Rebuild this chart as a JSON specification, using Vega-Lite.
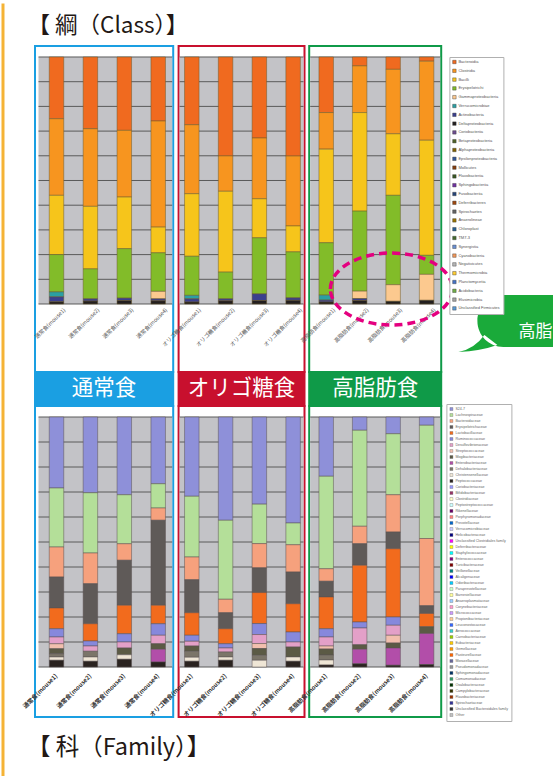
{
"$schema": "https://vega.github.io/schema/vega-lite/v6.json",
"padding": 0,
"background": "white",
"config": {"font": "Noto Sans CJK JP", "view": {"stroke": null}, "scale": {"continuousPadding": 0}},
"datasets": {
"grid": [{"v":0},{"v":0.1},{"v":0.2},{"v":0.3},{"v":0.4},{"v":0.5},{"v":0.6},{"v":0.7},{"v":0.8},{"v":0.9},{"v":1}],
"clsRank": [{"t":"Deltaproteobacteria","k":1},{"t":"Actinobacteria","k":2},{"t":"Verrucomicrobiae","k":3},{"t":"Gammaproteobacteria","k":4},{"t":"Erysipelotrichi","k":5},{"t":"Bacilli","k":6},{"t":"Clostridia","k":7},{"t":"Bacteroidia","k":8}],
"famRank": [{"t":"Peptococcaceae","k":1},{"t":"Christensenellaceae","k":2},{"t":"Dehalobacteriaceae","k":3},{"t":"Enterobacteriaceae","k":4},{"t":"Mogibacteriaceae","k":5},{"t":"Streptococcaceae","k":6},{"t":"Desulfovibrionaceae","k":7},{"t":"Ruminococcaceae","k":8},{"t":"Lactobacillaceae","k":9},{"t":"Erysipelotrichaceae","k":10},{"t":"Bacteroidaceae","k":11},{"t":"Lachnospiraceae","k":12},{"t":"S24-7","k":13}],
"lab": [
{"g":"N","s":1,"name":"通常食(mouse1)"},{"g":"N","s":2,"name":"通常食(mouse2)"},{"g":"N","s":3,"name":"通常食(mouse3)"},{"g":"N","s":4,"name":"通常食(mouse4)"},
{"g":"O","s":1,"name":"オリゴ糖食(mouse1)"},{"g":"O","s":2,"name":"オリゴ糖食(mouse2)"},{"g":"O","s":3,"name":"オリゴ糖食(mouse3)"},{"g":"O","s":4,"name":"オリゴ糖食(mouse4)"},
{"g":"H","s":1,"name":"高脂肪食(mouse1)"},{"g":"H","s":2,"name":"高脂肪食(mouse2)"},{"g":"H","s":3,"name":"高脂肪食(mouse3)"},{"g":"H","s":4,"name":"高脂肪食(mouse4)"}],
"cls": [
{"g":"N","s":1,"t":"Bacteroidia","v":25.0},{"g":"N","s":1,"t":"Clostridia","v":31.0},{"g":"N","s":1,"t":"Bacilli","v":24.0},{"g":"N","s":1,"t":"Erysipelotrichi","v":15.1},{"g":"N","s":1,"t":"Verrucomicrobiae","v":2.0},{"g":"N","s":1,"t":"Actinobacteria","v":2.0},{"g":"N","s":1,"t":"Deltaproteobacteria","v":0.9},
{"g":"N","s":2,"t":"Bacteroidia","v":29.0},{"g":"N","s":2,"t":"Clostridia","v":31.4},{"g":"N","s":2,"t":"Bacilli","v":25.3},{"g":"N","s":2,"t":"Erysipelotrichi","v":12.1},{"g":"N","s":2,"t":"Actinobacteria","v":0.9},{"g":"N","s":2,"t":"Deltaproteobacteria","v":1.2},
{"g":"N","s":3,"t":"Bacteroidia","v":29.7},{"g":"N","s":3,"t":"Clostridia","v":27.0},{"g":"N","s":3,"t":"Bacilli","v":20.9},{"g":"N","s":3,"t":"Erysipelotrichi","v":20.0},{"g":"N","s":3,"t":"Actinobacteria","v":1.0},{"g":"N","s":3,"t":"Deltaproteobacteria","v":1.4},
{"g":"N","s":4,"t":"Bacteroidia","v":25.9},{"g":"N","s":4,"t":"Clostridia","v":42.9},{"g":"N","s":4,"t":"Bacilli","v":10.4},{"g":"N","s":4,"t":"Erysipelotrichi","v":15.6},{"g":"N","s":4,"t":"Gammaproteobacteria","v":3.0},{"g":"N","s":4,"t":"Actinobacteria","v":0.8},{"g":"N","s":4,"t":"Deltaproteobacteria","v":1.3},
{"g":"O","s":1,"t":"Bacteroidia","v":27.4},{"g":"O","s":1,"t":"Clostridia","v":27.9},{"g":"O","s":1,"t":"Bacilli","v":25.3},{"g":"O","s":1,"t":"Erysipelotrichi","v":15.8},{"g":"O","s":1,"t":"Verrucomicrobiae","v":1.4},{"g":"O","s":1,"t":"Actinobacteria","v":1.3},{"g":"O","s":1,"t":"Deltaproteobacteria","v":0.8},
{"g":"O","s":2,"t":"Bacteroidia","v":40.0},{"g":"O","s":2,"t":"Clostridia","v":14.3},{"g":"O","s":2,"t":"Bacilli","v":32.7},{"g":"O","s":2,"t":"Erysipelotrichi","v":10.8},{"g":"O","s":2,"t":"Actinobacteria","v":0.8},{"g":"O","s":2,"t":"Deltaproteobacteria","v":1.3},
{"g":"O","s":3,"t":"Bacteroidia","v":32.8},{"g":"O","s":3,"t":"Clostridia","v":24.6},{"g":"O","s":3,"t":"Bacilli","v":15.8},{"g":"O","s":3,"t":"Erysipelotrichi","v":22.7},{"g":"O","s":3,"t":"Actinobacteria","v":2.7},{"g":"O","s":3,"t":"Deltaproteobacteria","v":1.4},
{"g":"O","s":4,"t":"Bacteroidia","v":40.1},{"g":"O","s":4,"t":"Clostridia","v":28.3},{"g":"O","s":4,"t":"Bacilli","v":10.5},{"g":"O","s":4,"t":"Erysipelotrichi","v":18.6},{"g":"O","s":4,"t":"Actinobacteria","v":1.0},{"g":"O","s":4,"t":"Deltaproteobacteria","v":1.5},
{"g":"H","s":1,"t":"Bacteroidia","v":22.5},{"g":"H","s":1,"t":"Clostridia","v":14.8},{"g":"H","s":1,"t":"Bacilli","v":37.9},{"g":"H","s":1,"t":"Erysipelotrichi","v":21.2},{"g":"H","s":1,"t":"Verrucomicrobiae","v":2.0},{"g":"H","s":1,"t":"Actinobacteria","v":0.8},{"g":"H","s":1,"t":"Deltaproteobacteria","v":0.8},
{"g":"H","s":2,"t":"Bacteroidia","v":3.6},{"g":"H","s":2,"t":"Clostridia","v":18.9},{"g":"H","s":2,"t":"Bacilli","v":39.9},{"g":"H","s":2,"t":"Erysipelotrichi","v":32.4},{"g":"H","s":2,"t":"Gammaproteobacteria","v":3.0},{"g":"H","s":2,"t":"Actinobacteria","v":0.8},{"g":"H","s":2,"t":"Deltaproteobacteria","v":1.4},
{"g":"H","s":3,"t":"Bacteroidia","v":5.0},{"g":"H","s":3,"t":"Clostridia","v":26.1},{"g":"H","s":3,"t":"Bacilli","v":24.9},{"g":"H","s":3,"t":"Erysipelotrichi","v":36.2},{"g":"H","s":3,"t":"Gammaproteobacteria","v":6.7},{"g":"H","s":3,"t":"Deltaproteobacteria","v":1.1},
{"g":"H","s":4,"t":"Bacteroidia","v":1.7},{"g":"H","s":4,"t":"Clostridia","v":32.0},{"g":"H","s":4,"t":"Bacilli","v":46.6},{"g":"H","s":4,"t":"Erysipelotrichi","v":7.7},{"g":"H","s":4,"t":"Gammaproteobacteria","v":10.5},{"g":"H","s":4,"t":"Deltaproteobacteria","v":1.5}],
"fam": [
{"g":"N","s":1,"t":"S24-7","v":28.4},{"g":"N","s":1,"t":"Lachnospiraceae","v":23.6},{"g":"N","s":1,"t":"Bacteroidaceae","v":12},{"g":"N","s":1,"t":"Erysipelotrichaceae","v":12.4},{"g":"N","s":1,"t":"Lactobacillaceae","v":8.3},{"g":"N","s":1,"t":"Ruminococcaceae","v":3.3},{"g":"N","s":1,"t":"Desulfovibrionaceae","v":2.7},{"g":"N","s":1,"t":"Streptococcaceae","v":2},{"g":"N","s":1,"t":"Mogibacteriaceae","v":2},{"g":"N","s":1,"t":"Dehalobacteriaceae","v":1.3},{"g":"N","s":1,"t":"Christensenellaceae","v":1.3},{"g":"N","s":1,"t":"Peptococcaceae","v":2.7},
{"g":"N","s":2,"t":"S24-7","v":30.3},{"g":"N","s":2,"t":"Lachnospiraceae","v":24.1},{"g":"N","s":2,"t":"Bacteroidaceae","v":12.3},{"g":"N","s":2,"t":"Erysipelotrichaceae","v":16},{"g":"N","s":2,"t":"Lactobacillaceae","v":6.9},{"g":"N","s":2,"t":"Ruminococcaceae","v":2},{"g":"N","s":2,"t":"Desulfovibrionaceae","v":2.1},{"g":"N","s":2,"t":"Dehalobacteriaceae","v":2.3},{"g":"N","s":2,"t":"Christensenellaceae","v":1.7},{"g":"N","s":2,"t":"Peptococcaceae","v":2.3},
{"g":"N","s":3,"t":"S24-7","v":31.1},{"g":"N","s":3,"t":"Lachnospiraceae","v":19.6},{"g":"N","s":3,"t":"Bacteroidaceae","v":6.6},{"g":"N","s":3,"t":"Erysipelotrichaceae","v":18},{"g":"N","s":3,"t":"Lactobacillaceae","v":11.4},{"g":"N","s":3,"t":"Ruminococcaceae","v":3.3},{"g":"N","s":3,"t":"Desulfovibrionaceae","v":2.4},{"g":"N","s":3,"t":"Mogibacteriaceae","v":2.7},{"g":"N","s":3,"t":"Christensenellaceae","v":1.8},{"g":"N","s":3,"t":"Peptococcaceae","v":3.1},
{"g":"N","s":4,"t":"S24-7","v":26.7},{"g":"N","s":4,"t":"Lachnospiraceae","v":9.7},{"g":"N","s":4,"t":"Bacteroidaceae","v":4.9},{"g":"N","s":4,"t":"Erysipelotrichaceae","v":34},{"g":"N","s":4,"t":"Lactobacillaceae","v":7.4},{"g":"N","s":4,"t":"Ruminococcaceae","v":4.6},{"g":"N","s":4,"t":"Desulfovibrionaceae","v":3.4},{"g":"N","s":4,"t":"Mogibacteriaceae","v":2.2},{"g":"N","s":4,"t":"Enterobacteriaceae","v":5.1},{"g":"N","s":4,"t":"Peptococcaceae","v":2},
{"g":"O","s":1,"t":"S24-7","v":31.7},{"g":"O","s":1,"t":"Lachnospiraceae","v":24.3},{"g":"O","s":1,"t":"Bacteroidaceae","v":9.1},{"g":"O","s":1,"t":"Erysipelotrichaceae","v":13.2},{"g":"O","s":1,"t":"Lactobacillaceae","v":9},{"g":"O","s":1,"t":"Ruminococcaceae","v":2.4},{"g":"O","s":1,"t":"Desulfovibrionaceae","v":1.9},{"g":"O","s":1,"t":"Mogibacteriaceae","v":2.1},{"g":"O","s":1,"t":"Dehalobacteriaceae","v":2.4},{"g":"O","s":1,"t":"Christensenellaceae","v":1.6},{"g":"O","s":1,"t":"Peptococcaceae","v":2.3},
{"g":"O","s":2,"t":"S24-7","v":41.3},{"g":"O","s":2,"t":"Lachnospiraceae","v":31.6},{"g":"O","s":2,"t":"Bacteroidaceae","v":5.4},{"g":"O","s":2,"t":"Erysipelotrichaceae","v":6.4},{"g":"O","s":2,"t":"Lactobacillaceae","v":6},{"g":"O","s":2,"t":"Ruminococcaceae","v":1.7},{"g":"O","s":2,"t":"Desulfovibrionaceae","v":1.6},{"g":"O","s":2,"t":"Dehalobacteriaceae","v":2},{"g":"O","s":2,"t":"Christensenellaceae","v":1.3},{"g":"O","s":2,"t":"Peptococcaceae","v":2.7},
{"g":"O","s":3,"t":"S24-7","v":34.9},{"g":"O","s":3,"t":"Lachnospiraceae","v":15.8},{"g":"O","s":3,"t":"Bacteroidaceae","v":9.7},{"g":"O","s":3,"t":"Erysipelotrichaceae","v":9.9},{"g":"O","s":3,"t":"Lactobacillaceae","v":12.4},{"g":"O","s":3,"t":"Ruminococcaceae","v":4.4},{"g":"O","s":3,"t":"Desulfovibrionaceae","v":3.6},{"g":"O","s":3,"t":"Streptococcaceae","v":2},{"g":"O","s":3,"t":"Mogibacteriaceae","v":2.7},{"g":"O","s":3,"t":"Dehalobacteriaceae","v":2},{"g":"O","s":3,"t":"Christensenellaceae","v":2.7},
{"g":"O","s":4,"t":"S24-7","v":42.4},{"g":"O","s":4,"t":"Lachnospiraceae","v":8.7},{"g":"O","s":4,"t":"Bacteroidaceae","v":10.9},{"g":"O","s":4,"t":"Erysipelotrichaceae","v":12.7},{"g":"O","s":4,"t":"Lactobacillaceae","v":11.3},{"g":"O","s":4,"t":"Ruminococcaceae","v":4},{"g":"O","s":4,"t":"Desulfovibrionaceae","v":2},{"g":"O","s":4,"t":"Mogibacteriaceae","v":4},{"g":"O","s":4,"t":"Christensenellaceae","v":1.7},{"g":"O","s":4,"t":"Peptococcaceae","v":2.3},
{"g":"H","s":1,"t":"S24-7","v":23.7},{"g":"H","s":1,"t":"Lachnospiraceae","v":37},{"g":"H","s":1,"t":"Bacteroidaceae","v":5},{"g":"H","s":1,"t":"Erysipelotrichaceae","v":6.3},{"g":"H","s":1,"t":"Lactobacillaceae","v":12.7},{"g":"H","s":1,"t":"Ruminococcaceae","v":3.3},{"g":"H","s":1,"t":"Desulfovibrionaceae","v":3.6},{"g":"H","s":1,"t":"Streptococcaceae","v":1.2},{"g":"H","s":1,"t":"Mogibacteriaceae","v":2.4},{"g":"H","s":1,"t":"Dehalobacteriaceae","v":2},{"g":"H","s":1,"t":"Christensenellaceae","v":2},{"g":"H","s":1,"t":"Peptococcaceae","v":0.8},
{"g":"H","s":2,"t":"S24-7","v":5.3},{"g":"H","s":2,"t":"Lachnospiraceae","v":38.4},{"g":"H","s":2,"t":"Bacteroidaceae","v":7},{"g":"H","s":2,"t":"Erysipelotrichaceae","v":8.6},{"g":"H","s":2,"t":"Lactobacillaceae","v":22.7},{"g":"H","s":2,"t":"Ruminococcaceae","v":2.4},{"g":"H","s":2,"t":"Desulfovibrionaceae","v":6.7},{"g":"H","s":2,"t":"Mogibacteriaceae","v":1.8},{"g":"H","s":2,"t":"Enterobacteriaceae","v":5.8},{"g":"H","s":2,"t":"Peptococcaceae","v":1.3},
{"g":"H","s":3,"t":"S24-7","v":6.7},{"g":"H","s":3,"t":"Lachnospiraceae","v":24.4},{"g":"H","s":3,"t":"Bacteroidaceae","v":14.9},{"g":"H","s":3,"t":"Erysipelotrichaceae","v":6.7},{"g":"H","s":3,"t":"Lactobacillaceae","v":27.3},{"g":"H","s":3,"t":"Ruminococcaceae","v":3.3},{"g":"H","s":3,"t":"Desulfovibrionaceae","v":4},{"g":"H","s":3,"t":"Streptococcaceae","v":3.1},{"g":"H","s":3,"t":"Mogibacteriaceae","v":2},{"g":"H","s":3,"t":"Enterobacteriaceae","v":6.9},{"g":"H","s":3,"t":"Peptococcaceae","v":0.7},
{"g":"H","s":4,"t":"S24-7","v":3.3},{"g":"H","s":4,"t":"Lachnospiraceae","v":45.3},{"g":"H","s":4,"t":"Bacteroidaceae","v":26.9},{"g":"H","s":4,"t":"Erysipelotrichaceae","v":3.1},{"g":"H","s":4,"t":"Lactobacillaceae","v":5.3},{"g":"H","s":4,"t":"Mogibacteriaceae","v":2.7},{"g":"H","s":4,"t":"Enterobacteriaceae","v":12.4},{"g":"H","s":4,"t":"Peptococcaceae","v":1}]
},
"columns": 3,
"spacing": {"row": 0, "column": 4.6},
"bounds": "flush",
"resolve": {"scale": {"color": "independent", "x": "independent", "y": "independent"}, "legend": {"color": "independent"}},
"concat": [
 {"width": 138.2, "height": 326,
  "view": {"stroke": "#1a9fe2", "strokeWidth": 2, "fill": "white"},
  "layer": [
   {"data": {"values": [{}]}, "mark": {"type": "rect", "color": "#c3c3c7"},
    "encoding": {"x": {"datum": 0.469, "type": "quantitative", "scale": {"domain": [0.3658, 4.4425], "nice": false, "zero": false, "padding": 0}, "axis": null}, "x2": {"datum": 4.413},
                 "y": {"datum": 0, "type": "quantitative", "scale": {"domain": [-0.2753, 1.0445], "nice": false, "zero": false, "padding": 0}, "axis": null}, "y2": {"datum": 1}}},
   {"data": {"name": "grid"}, "mark": {"type": "rule", "color": "#5a5a5a", "strokeWidth": 1},
    "encoding": {"x": {"datum": 0.469, "type": "quantitative", "scale": {"domain": [0.3658, 4.4425], "nice": false, "zero": false, "padding": 0}, "axis": null}, "x2": {"datum": 4.413},
                 "y": {"field": "v", "type": "quantitative", "scale": {"domain": [-0.2753, 1.0445], "nice": false, "zero": false, "padding": 0},
                       "axis": {"values": [0,0.1,0.2,0.3,0.4,0.5,0.6,0.7,0.8,0.9,1], "format": ".0%", "domain": false, "grid": false, "ticks": true, "tickSize": 4, "tickColor": "#555", "tickWidth": 0.8, "labelFontSize": 4.5, "labelColor": "#777", "labelPadding": 1, "labelFont": "Liberation Sans", "title": null}}}},
   {"data": {"name": "cls"}, "transform": [{"filter": "datum.g == 'N'"}, {"lookup": "t", "from": {"data": {"name": "clsRank"}, "key": "t", "fields": ["k"]}}],
    "mark": {"type": "bar", "orient": "vertical", "width": 14.5, "stroke": "#6b5a2e", "strokeWidth": 0.5},
    "encoding": {"x": {"field": "s", "type": "quantitative", "scale": {"domain": [0.3658, 4.4425], "nice": false, "zero": false, "padding": 0}, "axis": null},
                 "y": {"field": "v", "type": "quantitative", "stack": "normalize", "scale": {"domain": [-0.2753, 1.0445], "nice": false, "zero": false, "padding": 0}, "axis": null},
                 "order": {"field": "k", "type": "quantitative"},
                 "color": {"field": "t", "type": "nominal", "legend": null,
                           "scale": {"domain": ["Bacteroidia","Clostridia","Bacilli","Erysipelotrichi","Gammaproteobacteria","Verrucomicrobiae","Actinobacteria","Deltaproteobacteria","Coriobacteriia","Betaproteobacteria","Alphaproteobacteria","Epsilonproteobacteria","Mollicutes","Flavobacteriia","Sphingobacteriia","Fusobacteriia","Deferribacteres","Spirochaetes","Anaerolineae","Chloroplast","TM7-3","Synergistia","Cyanobacteria","Negativicutes","Thermomicrobia","Planctomycetia","Acidobacteria","Elusimicrobia","Unclassified Firmicutes"],
                                     "range": ["#f06a1f","#f7951f","#f6c51b","#82bc29","#fcc98f","#2b9fa3","#3b3f8e","#231f20","#6d4c8f","#4f6228","#7f6000","#2f5597","#843c0c","#385723","#7030a0","#264478","#9e480e","#636363","#997300","#255e91","#43682b","#698ed0","#f1975a","#b7b7b7","#ffcd33","#4472c4","#70ad47","#a5a5a5","#5b9bd5"]}}}},
   {"data": {"name": "lab"}, "transform": [{"filter": "datum.g == 'N'"}],
    "mark": {"type": "text", "angle": 315, "align": "right", "baseline": "middle", "fontSize": 5.5, "color": "#555", "xOffset": 8},
    "encoding": {"x": {"field": "s", "type": "quantitative", "scale": {"domain": [0.3658, 4.4425], "nice": false, "zero": false, "padding": 0}, "axis": null},
                 "y": {"datum": -0.02, "type": "quantitative", "scale": {"domain": [-0.2753, 1.0445], "nice": false, "zero": false, "padding": 0}, "axis": null},
                 "text": {"field": "name"}}},
   {"data": {"values": [{"title": "【 綱（Class）】"}]},
    "mark": {"type": "text", "align": "left", "baseline": "alphabetic", "fontSize": 22.5, "color": "#231815", "font": "Noto Sans CJK JP"},
    "encoding": {"x": {"datum": 0.1446, "type": "quantitative", "scale": {"domain": [0.3658, 4.4425], "nice": false, "zero": false, "padding": 0}, "axis": null},
                 "y": {"datum": 1.0983, "type": "quantitative", "scale": {"domain": [-0.2753, 1.0445], "nice": false, "zero": false, "padding": 0}, "axis": null},
                 "text": {"field": "title"}}},
   {"data": {"values": [{}]}, "mark": {"type": "rule", "color": "#f5b335", "strokeWidth": 3},
    "encoding": {"x": {"datum": -0.5782, "type": "quantitative", "scale": {"domain": [0.3658, 4.4425], "nice": false, "zero": false, "padding": 0}, "axis": null},
                 "y": {"datum": 1.2166, "type": "quantitative", "scale": {"domain": [-0.2753, 1.0445], "nice": false, "zero": false, "padding": 0}, "axis": null}, "y2": {"datum": -1.913}}}
  ]},
 {"width": 125.9, "height": 326,
  "view": {"stroke": "#c8102e", "strokeWidth": 2, "fill": "white"},
  "layer": [
   {"data": {"values": [{}]}, "mark": {"type": "rect", "color": "#c3c3c7"},
    "encoding": {"x": {"datum": 0.639, "type": "quantitative", "scale": {"domain": [0.609, 4.337], "nice": false, "zero": false, "padding": 0}, "axis": null}, "x2": {"datum": 4.307},
                 "y": {"datum": 0, "type": "quantitative", "scale": {"domain": [-0.2753, 1.0445], "nice": false, "zero": false, "padding": 0}, "axis": null}, "y2": {"datum": 1}}},
   {"data": {"name": "grid"}, "mark": {"type": "rule", "color": "#5a5a5a", "strokeWidth": 1},
    "encoding": {"x": {"datum": 0.639, "type": "quantitative", "scale": {"domain": [0.609, 4.337], "nice": false, "zero": false, "padding": 0}, "axis": null}, "x2": {"datum": 4.307},
                 "y": {"field": "v", "type": "quantitative", "scale": {"domain": [-0.2753, 1.0445], "nice": false, "zero": false, "padding": 0}, "axis": null}}},
   {"data": {"name": "cls"}, "transform": [{"filter": "datum.g == 'O'"}, {"lookup": "t", "from": {"data": {"name": "clsRank"}, "key": "t", "fields": ["k"]}}],
    "mark": {"type": "bar", "orient": "vertical", "width": 14.5, "stroke": "#6b5a2e", "strokeWidth": 0.5},
    "encoding": {"x": {"field": "s", "type": "quantitative", "scale": {"domain": [0.609, 4.337], "nice": false, "zero": false, "padding": 0}, "axis": null},
                 "y": {"field": "v", "type": "quantitative", "stack": "normalize", "scale": {"domain": [-0.2753, 1.0445], "nice": false, "zero": false, "padding": 0}, "axis": null},
                 "order": {"field": "k", "type": "quantitative"},
                 "color": {"field": "t", "type": "nominal", "legend": null,
                           "scale": {"domain": ["Bacteroidia","Clostridia","Bacilli","Erysipelotrichi","Gammaproteobacteria","Verrucomicrobiae","Actinobacteria","Deltaproteobacteria","Coriobacteriia","Betaproteobacteria","Alphaproteobacteria","Epsilonproteobacteria","Mollicutes","Flavobacteriia","Sphingobacteriia","Fusobacteriia","Deferribacteres","Spirochaetes","Anaerolineae","Chloroplast","TM7-3","Synergistia","Cyanobacteria","Negativicutes","Thermomicrobia","Planctomycetia","Acidobacteria","Elusimicrobia","Unclassified Firmicutes"],
                                     "range": ["#f06a1f","#f7951f","#f6c51b","#82bc29","#fcc98f","#2b9fa3","#3b3f8e","#231f20","#6d4c8f","#4f6228","#7f6000","#2f5597","#843c0c","#385723","#7030a0","#264478","#9e480e","#636363","#997300","#255e91","#43682b","#698ed0","#f1975a","#b7b7b7","#ffcd33","#4472c4","#70ad47","#a5a5a5","#5b9bd5"]}}}},
   {"data": {"name": "lab"}, "transform": [{"filter": "datum.g == 'O'"}],
    "mark": {"type": "text", "angle": 315, "align": "right", "baseline": "middle", "fontSize": 5.5, "color": "#555", "xOffset": 8},
    "encoding": {"x": {"field": "s", "type": "quantitative", "scale": {"domain": [0.609, 4.337], "nice": false, "zero": false, "padding": 0}, "axis": null},
                 "y": {"datum": -0.02, "type": "quantitative", "scale": {"domain": [-0.2753, 1.0445], "nice": false, "zero": false, "padding": 0}, "axis": null},
                 "text": {"field": "name"}}}
  ]},
 {"width": 132, "height": 326,
  "view": {"stroke": "#0f9a48", "strokeWidth": 2, "fill": "white"},
  "layer": [
   {"data": {"values": [{}]}, "mark": {"type": "rect", "color": "#c3c3c7"},
    "encoding": {"x": {"datum": 0.522, "type": "quantitative", "scale": {"domain": [0.492, 4.436], "nice": false, "zero": false, "padding": 0}, "axis": null}, "x2": {"datum": 4.406},
                 "y": {"datum": 0, "type": "quantitative", "scale": {"domain": [-0.2753, 1.0445], "nice": false, "zero": false, "padding": 0}, "axis": null}, "y2": {"datum": 1}}},
   {"data": {"name": "grid"}, "mark": {"type": "rule", "color": "#5a5a5a", "strokeWidth": 1},
    "encoding": {"x": {"datum": 0.522, "type": "quantitative", "scale": {"domain": [0.492, 4.436], "nice": false, "zero": false, "padding": 0}, "axis": null}, "x2": {"datum": 4.406},
                 "y": {"field": "v", "type": "quantitative", "scale": {"domain": [-0.2753, 1.0445], "nice": false, "zero": false, "padding": 0}, "axis": null}}},
   {"data": {"name": "cls"}, "transform": [{"filter": "datum.g == 'H'"}, {"lookup": "t", "from": {"data": {"name": "clsRank"}, "key": "t", "fields": ["k"]}}],
    "mark": {"type": "bar", "orient": "vertical", "width": 14.5, "stroke": "#6b5a2e", "strokeWidth": 0.5},
    "encoding": {"x": {"field": "s", "type": "quantitative", "scale": {"domain": [0.492, 4.436], "nice": false, "zero": false, "padding": 0}, "axis": null},
                 "y": {"field": "v", "type": "quantitative", "stack": "normalize", "scale": {"domain": [-0.2753, 1.0445], "nice": false, "zero": false, "padding": 0}, "axis": null},
                 "order": {"field": "k", "type": "quantitative"},
                 "color": {"field": "t", "type": "nominal",
                           "legend": {"orient": "none", "legendX": 140.2, "legendY": 11, "title": null, "padding": 3, "strokeColor": "#b0b0b0", "fillColor": "white", "symbolType": "square", "symbolSize": 12, "symbolStrokeColor": "#333", "symbolStrokeWidth": 0.4, "labelFontSize": 4.0, "labelFont": "Liberation Sans", "labelColor": "#555", "rowPadding": 2.8, "labelOffset": 2, "labelLimit": 80, "symbolLimit": 80},
                           "scale": {"domain": ["Bacteroidia","Clostridia","Bacilli","Erysipelotrichi","Gammaproteobacteria","Verrucomicrobiae","Actinobacteria","Deltaproteobacteria","Coriobacteriia","Betaproteobacteria","Alphaproteobacteria","Epsilonproteobacteria","Mollicutes","Flavobacteriia","Sphingobacteriia","Fusobacteriia","Deferribacteres","Spirochaetes","Anaerolineae","Chloroplast","TM7-3","Synergistia","Cyanobacteria","Negativicutes","Thermomicrobia","Planctomycetia","Acidobacteria","Elusimicrobia","Unclassified Firmicutes"],
                                     "range": ["#f06a1f","#f7951f","#f6c51b","#82bc29","#fcc98f","#2b9fa3","#3b3f8e","#231f20","#6d4c8f","#4f6228","#7f6000","#2f5597","#843c0c","#385723","#7030a0","#264478","#9e480e","#636363","#997300","#255e91","#43682b","#698ed0","#f1975a","#b7b7b7","#ffcd33","#4472c4","#70ad47","#a5a5a5","#5b9bd5"]}}}},
   {"data": {"name": "lab"}, "transform": [{"filter": "datum.g == 'H'"}],
    "mark": {"type": "text", "angle": 315, "align": "right", "baseline": "middle", "fontSize": 5.5, "color": "#555", "xOffset": 8},
    "encoding": {"x": {"field": "s", "type": "quantitative", "scale": {"domain": [0.492, 4.436], "nice": false, "zero": false, "padding": 0}, "axis": null},
                 "y": {"datum": -0.02, "type": "quantitative", "scale": {"domain": [-0.2753, 1.0445], "nice": false, "zero": false, "padding": 0}, "axis": null},
                 "text": {"field": "name"}}},
   {"data": {"values": [{}]},
    "mark": {"type": "point", "shape": "M-1,0A1,0.59,0,1,1,1,0A1,0.59,0,1,1,-1,0Z", "size": 14884, "filled": false, "stroke": "#e4007f", "strokeWidth": 3.5, "strokeDash": [8, 5], "opacity": 1},
    "encoding": {"x": {"datum": 2.948, "type": "quantitative", "scale": {"domain": [0.492, 4.436], "nice": false, "zero": false, "padding": 0}, "axis": null},
                 "y": {"datum": 0.0607, "type": "quantitative", "scale": {"domain": [-0.2753, 1.0445], "nice": false, "zero": false, "padding": 0}, "axis": null}}},
   {"data": {"values": [{}]},
    "mark": {"type": "point", "shape": "M-0.325,-0.65L0.975,-0.65L0.975,0.65L-0.325,0.65A0.65,0.65,0,0,1,-0.325,-0.65Z M-0.8,0.35Q-1.05,0.7,-1.45,0.775Q-0.9,0.75,-0.475,0.6Z", "size": 6400, "filled": true, "fill": "#1aaa3a", "strokeWidth": 0, "opacity": 1},
    "encoding": {"x": {"datum": 6.683, "type": "quantitative", "scale": {"domain": [0.492, 4.436], "nice": false, "zero": false, "padding": 0}, "axis": null},
                 "y": {"datum": -0.0688, "type": "quantitative", "scale": {"domain": [-0.2753, 1.0445], "nice": false, "zero": false, "padding": 0}, "axis": null}}},
   {"data": {"values": [{"txt": "高脂"}]},
    "mark": {"type": "text", "align": "left", "baseline": "middle", "fontSize": 17, "color": "white", "font": "Noto Sans CJK JP"},
    "encoding": {"x": {"datum": 6.742, "type": "quantitative", "scale": {"domain": [0.492, 4.436], "nice": false, "zero": false, "padding": 0}, "axis": null},
                 "y": {"datum": -0.1134, "type": "quantitative", "scale": {"domain": [-0.2753, 1.0445], "nice": false, "zero": false, "padding": 0}, "axis": null},
                 "text": {"field": "txt"}}}
  ]},
 {"width": 138.2, "height": 34,
  "view": {"stroke": "#1a9fe2", "strokeWidth": 2, "fill": "#1a9fe2"},
  "data": {"values": [{"name": "通常食"}]},
  "mark": {"type": "text", "color": "white", "fontSize": 21.5, "font": "Noto Sans CJK JP", "baseline": "middle", "align": "center"},
  "encoding": {"x": {"datum": 0.5, "type": "quantitative", "scale": {"domain": [0, 1], "padding": 0}, "axis": null},
               "y": {"datum": 0.5, "type": "quantitative", "scale": {"domain": [0, 1], "padding": 0}, "axis": null},
               "text": {"field": "name"}}},
 {"width": 125.9, "height": 34,
  "view": {"stroke": "#c8102e", "strokeWidth": 2, "fill": "#c8102e"},
  "data": {"values": [{"name": "オリゴ糖食"}]},
  "mark": {"type": "text", "color": "white", "fontSize": 21.5, "font": "Noto Sans CJK JP", "baseline": "middle", "align": "center"},
  "encoding": {"x": {"datum": 0.5, "type": "quantitative", "scale": {"domain": [0, 1], "padding": 0}, "axis": null},
               "y": {"datum": 0.5, "type": "quantitative", "scale": {"domain": [0, 1], "padding": 0}, "axis": null},
               "text": {"field": "name"}}},
 {"width": 132, "height": 34,
  "view": {"stroke": "#0f9a48", "strokeWidth": 2, "fill": "#0f9a48"},
  "data": {"values": [{"name": "高脂肪食"}]},
  "mark": {"type": "text", "color": "white", "fontSize": 21.5, "font": "Noto Sans CJK JP", "baseline": "middle", "align": "center"},
  "encoding": {"x": {"datum": 0.5, "type": "quantitative", "scale": {"domain": [0, 1], "padding": 0}, "axis": null},
               "y": {"datum": 0.5, "type": "quantitative", "scale": {"domain": [0, 1], "padding": 0}, "axis": null},
               "text": {"field": "name"}}},
 {"width": 138.2, "height": 311,
  "view": {"stroke": "#1a9fe2", "strokeWidth": 2, "fill": "white"},
  "layer": [
   {"data": {"values": [{}]}, "mark": {"type": "rect", "color": "#c3c3c7"},
    "encoding": {"x": {"datum": 0.469, "type": "quantitative", "scale": {"domain": [0.3658, 4.4425], "nice": false, "zero": false, "padding": 0}, "axis": null}, "x2": {"datum": 4.413},
                 "y": {"datum": 0, "type": "quantitative", "scale": {"domain": [-0.2, 1.044], "nice": false, "zero": false, "padding": 0}, "axis": null}, "y2": {"datum": 1}}},
   {"data": {"name": "grid"}, "mark": {"type": "rule", "color": "#5a5a5a", "strokeWidth": 1},
    "encoding": {"x": {"datum": 0.469, "type": "quantitative", "scale": {"domain": [0.3658, 4.4425], "nice": false, "zero": false, "padding": 0}, "axis": null}, "x2": {"datum": 4.413},
                 "y": {"field": "v", "type": "quantitative", "scale": {"domain": [-0.2, 1.044], "nice": false, "zero": false, "padding": 0},
                       "axis": {"values": [0,0.1,0.2,0.3,0.4,0.5,0.6,0.7,0.8,0.9,1], "format": ".0%", "domain": false, "grid": false, "ticks": true, "tickSize": 4, "tickColor": "#555", "tickWidth": 0.8, "labelFontSize": 5.5, "labelColor": "#666", "labelPadding": 1, "labelFont": "Liberation Sans", "title": null}}}},
   {"data": {"name": "fam"}, "transform": [{"filter": "datum.g == 'N'"}, {"lookup": "t", "from": {"data": {"name": "famRank"}, "key": "t", "fields": ["k"]}}],
    "mark": {"type": "bar", "orient": "vertical", "width": 14.5, "stroke": "#5a5050", "strokeWidth": 0.5},
    "encoding": {"x": {"field": "s", "type": "quantitative", "scale": {"domain": [0.3658, 4.4425], "nice": false, "zero": false, "padding": 0}, "axis": null},
                 "y": {"field": "v", "type": "quantitative", "stack": "normalize", "scale": {"domain": [-0.2, 1.044], "nice": false, "zero": false, "padding": 0}, "axis": null},
                 "order": {"field": "k", "type": "quantitative"},
                 "color": {"field": "t", "type": "nominal", "legend": null,
                           "scale": {"domain": ["S24-7","Lachnospiraceae","Bacteroidaceae","Erysipelotrichaceae","Lactobacillaceae","Ruminococcaceae","Desulfovibrionaceae","Streptococcaceae","Mogibacteriaceae","Enterobacteriaceae","Dehalobacteriaceae","Christensenellaceae","Peptococcaceae","Coriobacteriaceae","Bifidobacteriaceae","Clostridiaceae","Peptostreptococcaceae","Rikenellaceae","Porphyromonadaceae","Prevotellaceae","Verrucomicrobiaceae","Helicobacteraceae","Unclassified Clostridiales family","Deferribacteraceae","Staphylococcaceae","Enterococcaceae","Turicibacteraceae","Veillonellaceae","Alcaligenaceae","Odoribacteraceae","Paraprevotellaceae","Barnesiellaceae","Anaeroplasmataceae","Corynebacteriaceae","Micrococcaceae","Propionibacteriaceae","Leuconostocaceae","Aerococcaceae","Carnobacteriaceae","Eubacteriaceae","Gemellaceae","Pasteurellaceae","Moraxellaceae","Pseudomonadaceae","Sphingomonadaceae","Comamonadaceae","Oxalobacteraceae","Campylobacteraceae","Flavobacteriaceae","Spirochaetaceae","Unclassified Bacteroidales family","Other"],
                                     "range": ["#8e90d9","#b4df99","#f6a17d","#5f5a58","#f26b1d","#8688dc","#e3a0c8","#f2bfae","#5b5a45","#b24ea9","#7b7569","#efe6d6","#2a2320","#9999ff","#993366","#ffffcc","#ccffff","#660066","#ff8080","#0066cc","#ccccff","#000080","#ff00ff","#ffff00","#00ffff","#800080","#800000","#008080","#0000ff","#00ccff","#ccffcc","#ffff99","#99ccff","#ff99cc","#cc99ff","#ffcc99","#3366ff","#33cccc","#99cc00","#ffcc00","#ff9900","#ff6600","#666699","#969696","#003366","#339966","#003300","#333300","#993300","#333399","#333333","#c0c0c0"]}}}},
   {"data": {"name": "lab"}, "transform": [{"filter": "datum.g == 'N'"}],
    "mark": {"type": "text", "angle": 315, "align": "right", "baseline": "middle", "fontSize": 6, "fontWeight": "bold", "color": "#333", "xOffset": 0},
    "encoding": {"x": {"field": "s", "type": "quantitative", "scale": {"domain": [0.3658, 4.4425], "nice": false, "zero": false, "padding": 0}, "axis": null},
                 "y": {"datum": -0.032, "type": "quantitative", "scale": {"domain": [-0.2, 1.044], "nice": false, "zero": false, "padding": 0}, "axis": null},
                 "text": {"field": "name"}}},
   {"data": {"values": [{"title": "【 科（Family）】"}]},
    "mark": {"type": "text", "align": "left", "baseline": "alphabetic", "fontSize": 23.5, "color": "#231815", "font": "Noto Sans CJK JP"},
    "encoding": {"x": {"datum": 0.1269, "type": "quantitative", "scale": {"domain": [0.3658, 4.4425], "nice": false, "zero": false, "padding": 0}, "axis": null},
                 "y": {"datum": -0.3532, "type": "quantitative", "scale": {"domain": [-0.2, 1.044], "nice": false, "zero": false, "padding": 0}, "axis": null},
                 "text": {"field": "title"}}}
  ]},
 {"width": 125.9, "height": 311,
  "view": {"stroke": "#c8102e", "strokeWidth": 2, "fill": "white"},
  "layer": [
   {"data": {"values": [{}]}, "mark": {"type": "rect", "color": "#c3c3c7"},
    "encoding": {"x": {"datum": 0.639, "type": "quantitative", "scale": {"domain": [0.609, 4.337], "nice": false, "zero": false, "padding": 0}, "axis": null}, "x2": {"datum": 4.307},
                 "y": {"datum": 0, "type": "quantitative", "scale": {"domain": [-0.2, 1.044], "nice": false, "zero": false, "padding": 0}, "axis": null}, "y2": {"datum": 1}}},
   {"data": {"name": "grid"}, "mark": {"type": "rule", "color": "#5a5a5a", "strokeWidth": 1},
    "encoding": {"x": {"datum": 0.639, "type": "quantitative", "scale": {"domain": [0.609, 4.337], "nice": false, "zero": false, "padding": 0}, "axis": null}, "x2": {"datum": 4.307},
                 "y": {"field": "v", "type": "quantitative", "scale": {"domain": [-0.2, 1.044], "nice": false, "zero": false, "padding": 0}, "axis": null}}},
   {"data": {"name": "fam"}, "transform": [{"filter": "datum.g == 'O'"}, {"lookup": "t", "from": {"data": {"name": "famRank"}, "key": "t", "fields": ["k"]}}],
    "mark": {"type": "bar", "orient": "vertical", "width": 14.5, "stroke": "#5a5050", "strokeWidth": 0.5},
    "encoding": {"x": {"field": "s", "type": "quantitative", "scale": {"domain": [0.609, 4.337], "nice": false, "zero": false, "padding": 0}, "axis": null},
                 "y": {"field": "v", "type": "quantitative", "stack": "normalize", "scale": {"domain": [-0.2, 1.044], "nice": false, "zero": false, "padding": 0}, "axis": null},
                 "order": {"field": "k", "type": "quantitative"},
                 "color": {"field": "t", "type": "nominal", "legend": null,
                           "scale": {"domain": ["S24-7","Lachnospiraceae","Bacteroidaceae","Erysipelotrichaceae","Lactobacillaceae","Ruminococcaceae","Desulfovibrionaceae","Streptococcaceae","Mogibacteriaceae","Enterobacteriaceae","Dehalobacteriaceae","Christensenellaceae","Peptococcaceae","Coriobacteriaceae","Bifidobacteriaceae","Clostridiaceae","Peptostreptococcaceae","Rikenellaceae","Porphyromonadaceae","Prevotellaceae","Verrucomicrobiaceae","Helicobacteraceae","Unclassified Clostridiales family","Deferribacteraceae","Staphylococcaceae","Enterococcaceae","Turicibacteraceae","Veillonellaceae","Alcaligenaceae","Odoribacteraceae","Paraprevotellaceae","Barnesiellaceae","Anaeroplasmataceae","Corynebacteriaceae","Micrococcaceae","Propionibacteriaceae","Leuconostocaceae","Aerococcaceae","Carnobacteriaceae","Eubacteriaceae","Gemellaceae","Pasteurellaceae","Moraxellaceae","Pseudomonadaceae","Sphingomonadaceae","Comamonadaceae","Oxalobacteraceae","Campylobacteraceae","Flavobacteriaceae","Spirochaetaceae","Unclassified Bacteroidales family","Other"],
                                     "range": ["#8e90d9","#b4df99","#f6a17d","#5f5a58","#f26b1d","#8688dc","#e3a0c8","#f2bfae","#5b5a45","#b24ea9","#7b7569","#efe6d6","#2a2320","#9999ff","#993366","#ffffcc","#ccffff","#660066","#ff8080","#0066cc","#ccccff","#000080","#ff00ff","#ffff00","#00ffff","#800080","#800000","#008080","#0000ff","#00ccff","#ccffcc","#ffff99","#99ccff","#ff99cc","#cc99ff","#ffcc99","#3366ff","#33cccc","#99cc00","#ffcc00","#ff9900","#ff6600","#666699","#969696","#003366","#339966","#003300","#333300","#993300","#333399","#333333","#c0c0c0"]}}}},
   {"data": {"name": "lab"}, "transform": [{"filter": "datum.g == 'O'"}],
    "mark": {"type": "text", "angle": 315, "align": "right", "baseline": "middle", "fontSize": 6, "fontWeight": "bold", "color": "#333", "xOffset": 0},
    "encoding": {"x": {"field": "s", "type": "quantitative", "scale": {"domain": [0.609, 4.337], "nice": false, "zero": false, "padding": 0}, "axis": null},
                 "y": {"datum": -0.032, "type": "quantitative", "scale": {"domain": [-0.2, 1.044], "nice": false, "zero": false, "padding": 0}, "axis": null},
                 "text": {"field": "name"}}}
  ]},
 {"width": 132, "height": 311,
  "view": {"stroke": "#0f9a48", "strokeWidth": 2, "fill": "white"},
  "layer": [
   {"data": {"values": [{}]}, "mark": {"type": "rect", "color": "#c3c3c7"},
    "encoding": {"x": {"datum": 0.522, "type": "quantitative", "scale": {"domain": [0.492, 4.436], "nice": false, "zero": false, "padding": 0}, "axis": null}, "x2": {"datum": 4.406},
                 "y": {"datum": 0, "type": "quantitative", "scale": {"domain": [-0.2, 1.044], "nice": false, "zero": false, "padding": 0}, "axis": null}, "y2": {"datum": 1}}},
   {"data": {"name": "grid"}, "mark": {"type": "rule", "color": "#5a5a5a", "strokeWidth": 1},
    "encoding": {"x": {"datum": 0.522, "type": "quantitative", "scale": {"domain": [0.492, 4.436], "nice": false, "zero": false, "padding": 0}, "axis": null}, "x2": {"datum": 4.406},
                 "y": {"field": "v", "type": "quantitative", "scale": {"domain": [-0.2, 1.044], "nice": false, "zero": false, "padding": 0}, "axis": null}}},
   {"data": {"name": "fam"}, "transform": [{"filter": "datum.g == 'H'"}, {"lookup": "t", "from": {"data": {"name": "famRank"}, "key": "t", "fields": ["k"]}}],
    "mark": {"type": "bar", "orient": "vertical", "width": 14.5, "stroke": "#5a5050", "strokeWidth": 0.5},
    "encoding": {"x": {"field": "s", "type": "quantitative", "scale": {"domain": [0.492, 4.436], "nice": false, "zero": false, "padding": 0}, "axis": null},
                 "y": {"field": "v", "type": "quantitative", "stack": "normalize", "scale": {"domain": [-0.2, 1.044], "nice": false, "zero": false, "padding": 0}, "axis": null},
                 "order": {"field": "k", "type": "quantitative"},
                 "color": {"field": "t", "type": "nominal",
                           "legend": {"orient": "none", "legendX": 137.2, "legendY": -2, "title": null, "padding": 3, "strokeColor": "#b0b0b0", "fillColor": "white", "symbolType": "square", "symbolSize": 9, "symbolStrokeColor": "#555", "symbolStrokeWidth": 0.3, "labelFontSize": 3.6, "labelFont": "Liberation Sans", "labelColor": "#666", "rowPadding": 0, "labelOffset": 2, "labelLimit": 90, "symbolLimit": 80},
                           "scale": {"domain": ["S24-7","Lachnospiraceae","Bacteroidaceae","Erysipelotrichaceae","Lactobacillaceae","Ruminococcaceae","Desulfovibrionaceae","Streptococcaceae","Mogibacteriaceae","Enterobacteriaceae","Dehalobacteriaceae","Christensenellaceae","Peptococcaceae","Coriobacteriaceae","Bifidobacteriaceae","Clostridiaceae","Peptostreptococcaceae","Rikenellaceae","Porphyromonadaceae","Prevotellaceae","Verrucomicrobiaceae","Helicobacteraceae","Unclassified Clostridiales family","Deferribacteraceae","Staphylococcaceae","Enterococcaceae","Turicibacteraceae","Veillonellaceae","Alcaligenaceae","Odoribacteraceae","Paraprevotellaceae","Barnesiellaceae","Anaeroplasmataceae","Corynebacteriaceae","Micrococcaceae","Propionibacteriaceae","Leuconostocaceae","Aerococcaceae","Carnobacteriaceae","Eubacteriaceae","Gemellaceae","Pasteurellaceae","Moraxellaceae","Pseudomonadaceae","Sphingomonadaceae","Comamonadaceae","Oxalobacteraceae","Campylobacteraceae","Flavobacteriaceae","Spirochaetaceae","Unclassified Bacteroidales family","Other"],
                                     "range": ["#8e90d9","#b4df99","#f6a17d","#5f5a58","#f26b1d","#8688dc","#e3a0c8","#f2bfae","#5b5a45","#b24ea9","#7b7569","#efe6d6","#2a2320","#9999ff","#993366","#ffffcc","#ccffff","#660066","#ff8080","#0066cc","#ccccff","#000080","#ff00ff","#ffff00","#00ffff","#800080","#800000","#008080","#0000ff","#00ccff","#ccffcc","#ffff99","#99ccff","#ff99cc","#cc99ff","#ffcc99","#3366ff","#33cccc","#99cc00","#ffcc00","#ff9900","#ff6600","#666699","#969696","#003366","#339966","#003300","#333300","#993300","#333399","#333333","#c0c0c0"]}}}},
   {"data": {"name": "lab"}, "transform": [{"filter": "datum.g == 'H'"}],
    "mark": {"type": "text", "angle": 315, "align": "right", "baseline": "middle", "fontSize": 6, "fontWeight": "bold", "color": "#333", "xOffset": 0},
    "encoding": {"x": {"field": "s", "type": "quantitative", "scale": {"domain": [0.492, 4.436], "nice": false, "zero": false, "padding": 0}, "axis": null},
                 "y": {"datum": -0.032, "type": "quantitative", "scale": {"domain": [-0.2, 1.044], "nice": false, "zero": false, "padding": 0}, "axis": null},
                 "text": {"field": "name"}}}
  ]}
]
}
